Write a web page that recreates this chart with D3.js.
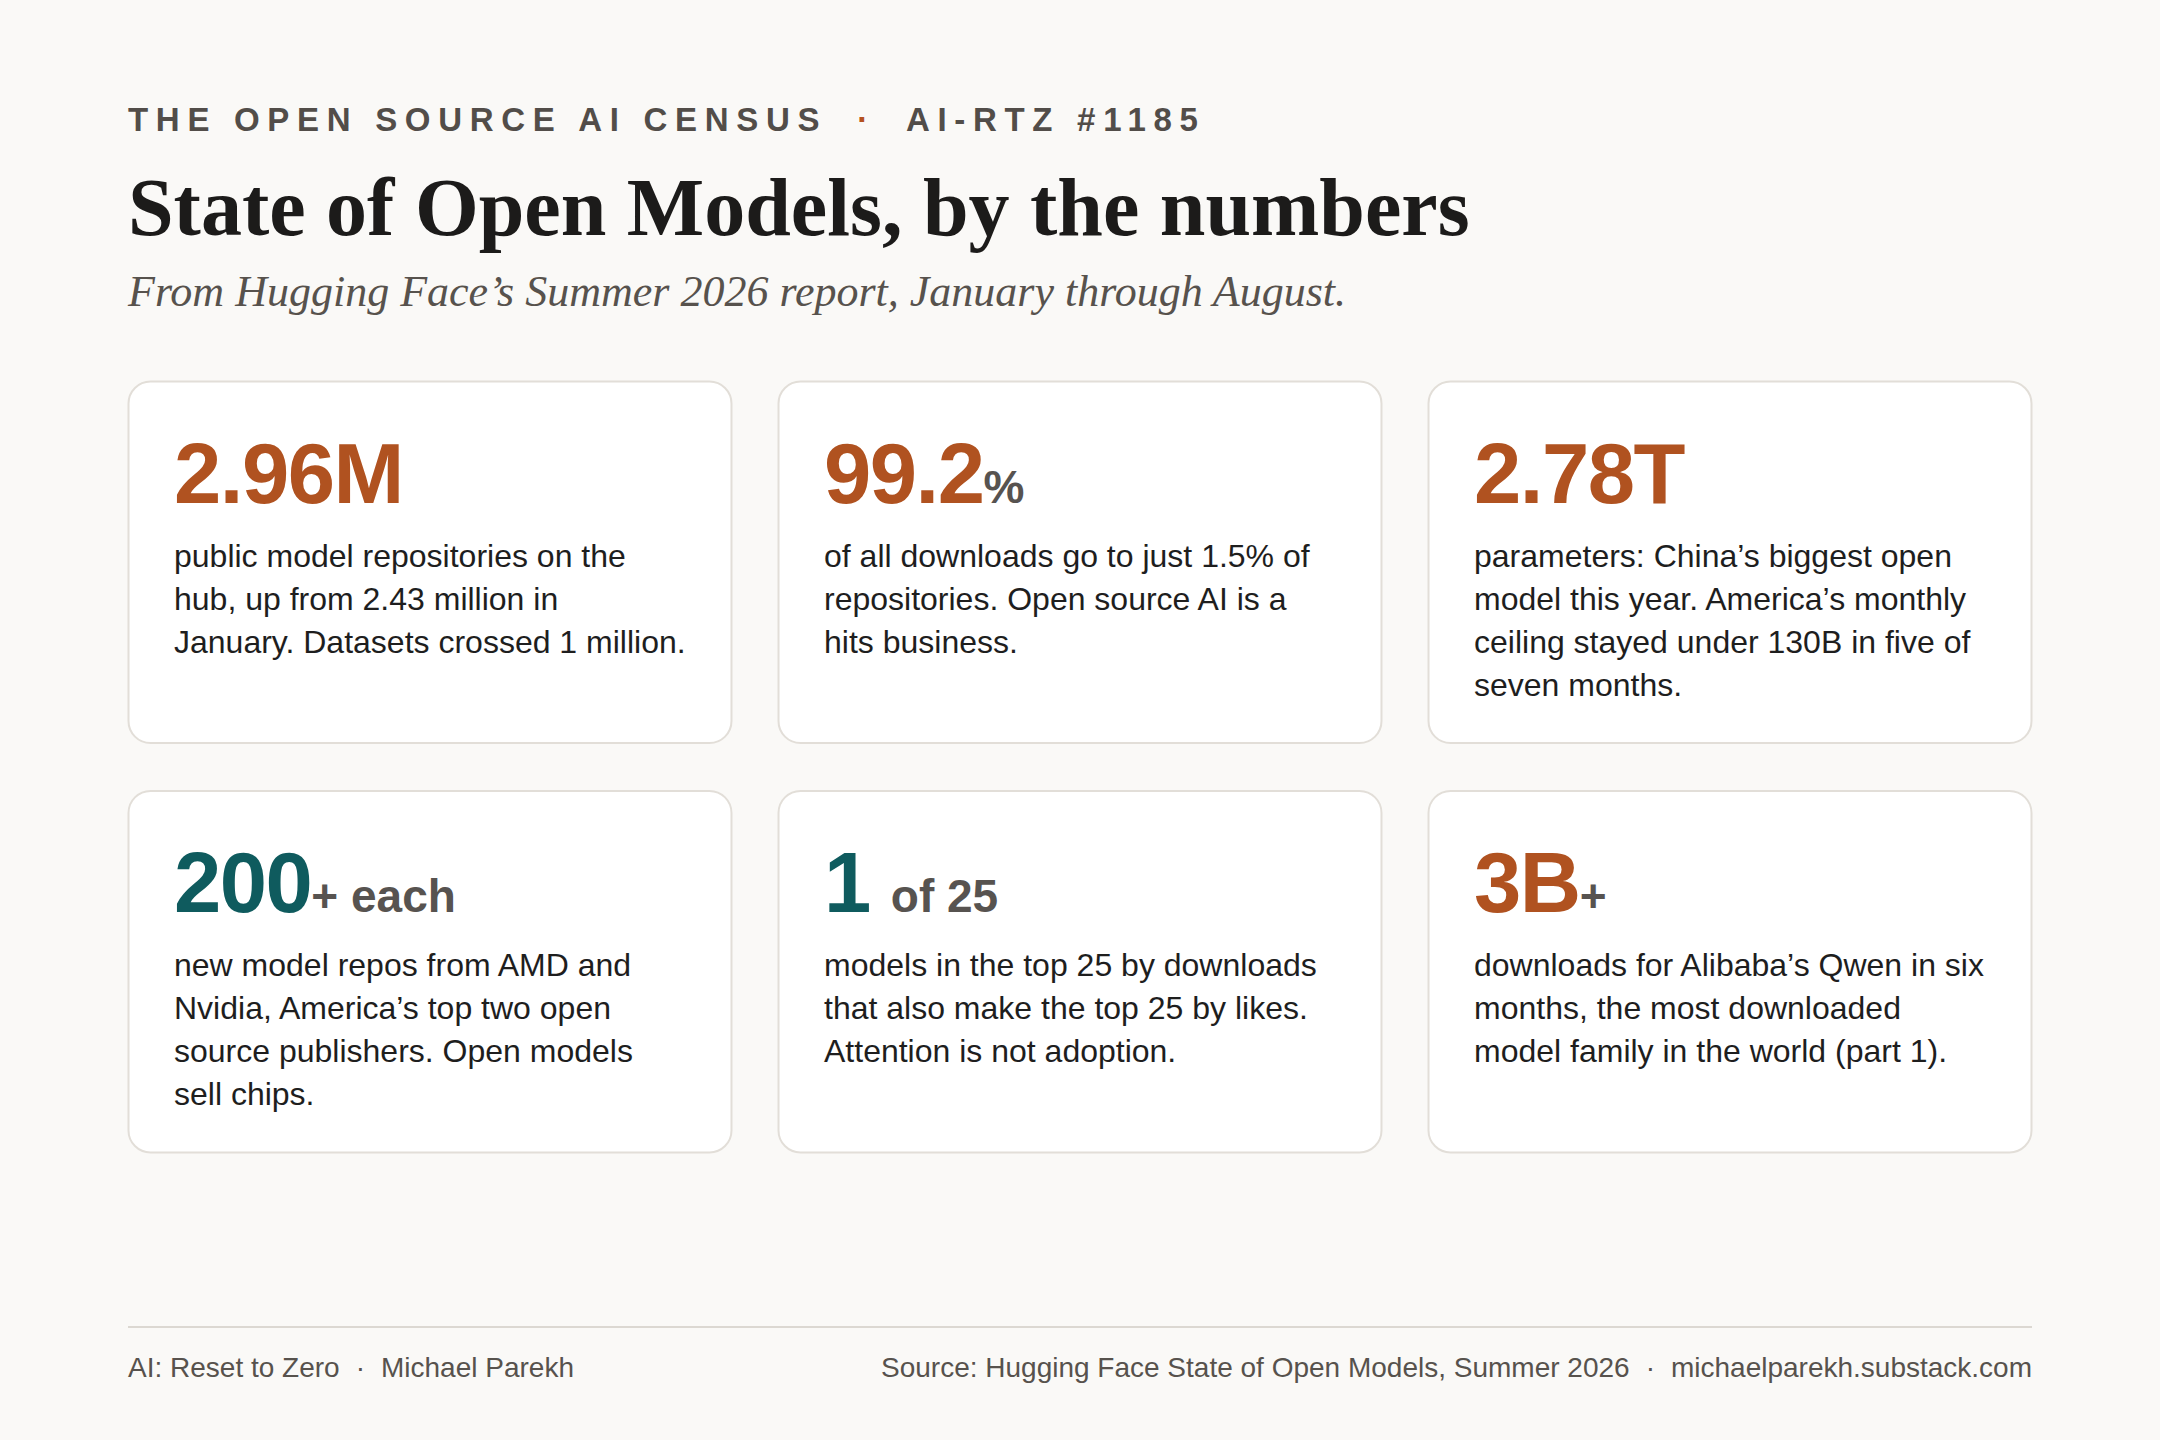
<!DOCTYPE html>
<html>
<head>
<meta charset="utf-8">
<script src="https://cdn.jsdelivr.net/npm/d3@7"></script>
<style>
  html, body { margin: 0; padding: 0; background: #faf9f7; }
  svg { display: block; }
</style>
</head>
<body>
<svg id="chart"></svg>
<script>
// figures from the Hugging Face Summer 2026 report
const statValues = ["2.96M", "99.2", "2.78T", "200", "1", "3B"];
const statSuffixes = ["", "%", "", "+ each", "of 25", "+"];
const statTone = ["warm", "warm", "warm", "cool", "cool", "warm"];
const statLines = [
  ["public model repositories on the", "hub, up from 2.43 million in", "January. Datasets crossed 1 million."],
  ["of all downloads go to just 1.5% of", "repositories. Open source AI is a", "hits business."],
  ["parameters: China\u2019s biggest open", "model this year. America\u2019s monthly", "ceiling stayed under 130B in five of", "seven months."],
  ["new model repos from AMD and", "Nvidia, America\u2019s top two open", "source publishers. Open models", "sell chips."],
  ["models in the top 25 by downloads", "that also make the top 25 by likes.", "Attention is not adoption."],
  ["downloads for Alibaba\u2019s Qwen in six", "months, the most downloaded", "model family in the world (part 1)."]
];

const kicker = ["THE OPEN SOURCE AI CENSUS", "AI-RTZ #1185"];
const title = "State of Open Models, by the numbers";
const subtitle = "From Hugging Face\u2019s Summer 2026 report, January through August.";
const footLeft = ["AI: Reset to Zero", "Michael Parekh"];
const footRight = ["Source: Hugging Face State of Open Models, Summer 2026", "michaelparekh.substack.com"];

const W = 2160, H = 1440;
const left = 128, right = 2032;
const sans = "'Liberation Sans', Arial, Helvetica, sans-serif";
const serif = "'Liberation Serif', 'Times New Roman', serif";

const svg = d3.select("#chart").attr("width", W).attr("height", H);
svg.append("rect").attr("width", W).attr("height", H).attr("fill", "#faf9f7");

// header
const k = svg.append("text")
  .attr("x", left).attr("y", 131)
  .attr("font-family", sans).attr("font-weight", 700)
  .attr("font-size", 33).attr("letter-spacing", "7.7px")
  .attr("fill", "#524d49");
k.append("tspan").text(kicker[0]);
k.append("tspan").attr("dx", 30).attr("fill", "#b5521f").text("\u00b7");
k.append("tspan").attr("dx", 30).text(kicker[1]);

svg.append("text")
  .attr("x", left).attr("y", 235)
  .attr("font-family", serif).attr("font-weight", 700)
  .attr("font-size", 82)
  .attr("fill", "#1c1b1a")
  .text(title);

svg.append("text")
  .attr("x", left).attr("y", 306)
  .attr("font-family", serif).attr("font-style", "italic")
  .attr("font-size", 44)
  .attr("fill", "#57524d")
  .text(subtitle);

// cards
const col = d3.scaleBand().domain([0, 1, 2]).range([left, right]).paddingInner(0.0708);
const row = d3.scaleBand().domain([0, 1]).range([381, 1153]).paddingInner(0.1146);
const tone = d3.scaleOrdinal().domain(["warm", "cool"]).range(["#b05220", "#0f5b5e"]);

const stats = statValues.map((v, i) => ({
  value: v, suffix: statSuffixes[i], tone: statTone[i], lines: statLines[i],
  c: i % 3, r: Math.floor(i / 3)
}));

const card = svg.selectAll(".card")
  .data(stats)
  .join("g")
  .attr("class", "card")
  .attr("transform", d => `translate(${col(d.c)}, ${row(d.r)})`);

card.append("rect")
  .attr("x", 0.5).attr("y", 0.5)
  .attr("width", col.bandwidth() - 1)
  .attr("height", row.bandwidth() - 1)
  .attr("rx", 22)
  .attr("fill", "#ffffff")
  .attr("stroke", "#e2ded8")
  .attr("stroke-width", 2);

const big = card.append("text")
  .attr("x", 46).attr("y", 122)
  .attr("font-family", sans).attr("font-weight", 700);

big.append("tspan")
  .attr("font-size", 85).attr("letter-spacing", "-1.5px")
  .attr("fill", d => tone(d.tone))
  .text(d => d.value);

// word suffixes sit a little off the figure, symbols hug it
big.append("tspan")
  .attr("font-size", 46)
  .attr("dx", d => /^[a-z]/.test(d.suffix) ? 21 : 0)
  .attr("fill", "#575350")
  .text(d => d.suffix);

card.append("text")
  .attr("font-family", sans).attr("font-size", 32)
  .attr("fill", "#1e1e1e")
  .selectAll("tspan")
  .data(d => d.lines)
  .join("tspan")
  .attr("x", 46)
  .attr("y", (d, i) => 186 + i * 43)
  .text(d => d);

// footer
svg.append("line")
  .attr("x1", left).attr("x2", right)
  .attr("y1", 1327).attr("y2", 1327)
  .attr("stroke", "#dcd8d2").attr("stroke-width", 2);

const fl = svg.append("text")
  .attr("x", left).attr("y", 1377)
  .attr("font-family", sans).attr("font-size", 28)
  .attr("fill", "#57524d");
fl.append("tspan").text(footLeft[0]);
fl.append("tspan").attr("dx", 16).text("\u00b7");
fl.append("tspan").attr("dx", 16).text(footLeft[1]);

const fr = svg.append("text")
  .attr("x", right).attr("y", 1377)
  .attr("text-anchor", "end")
  .attr("font-family", sans).attr("font-size", 28)
  .attr("fill", "#57524d");
fr.append("tspan").text(footRight[0]);
fr.append("tspan").attr("dx", 16).text("\u00b7");
fr.append("tspan").attr("dx", 16).text(footRight[1]);
</script>
</body>
</html>
